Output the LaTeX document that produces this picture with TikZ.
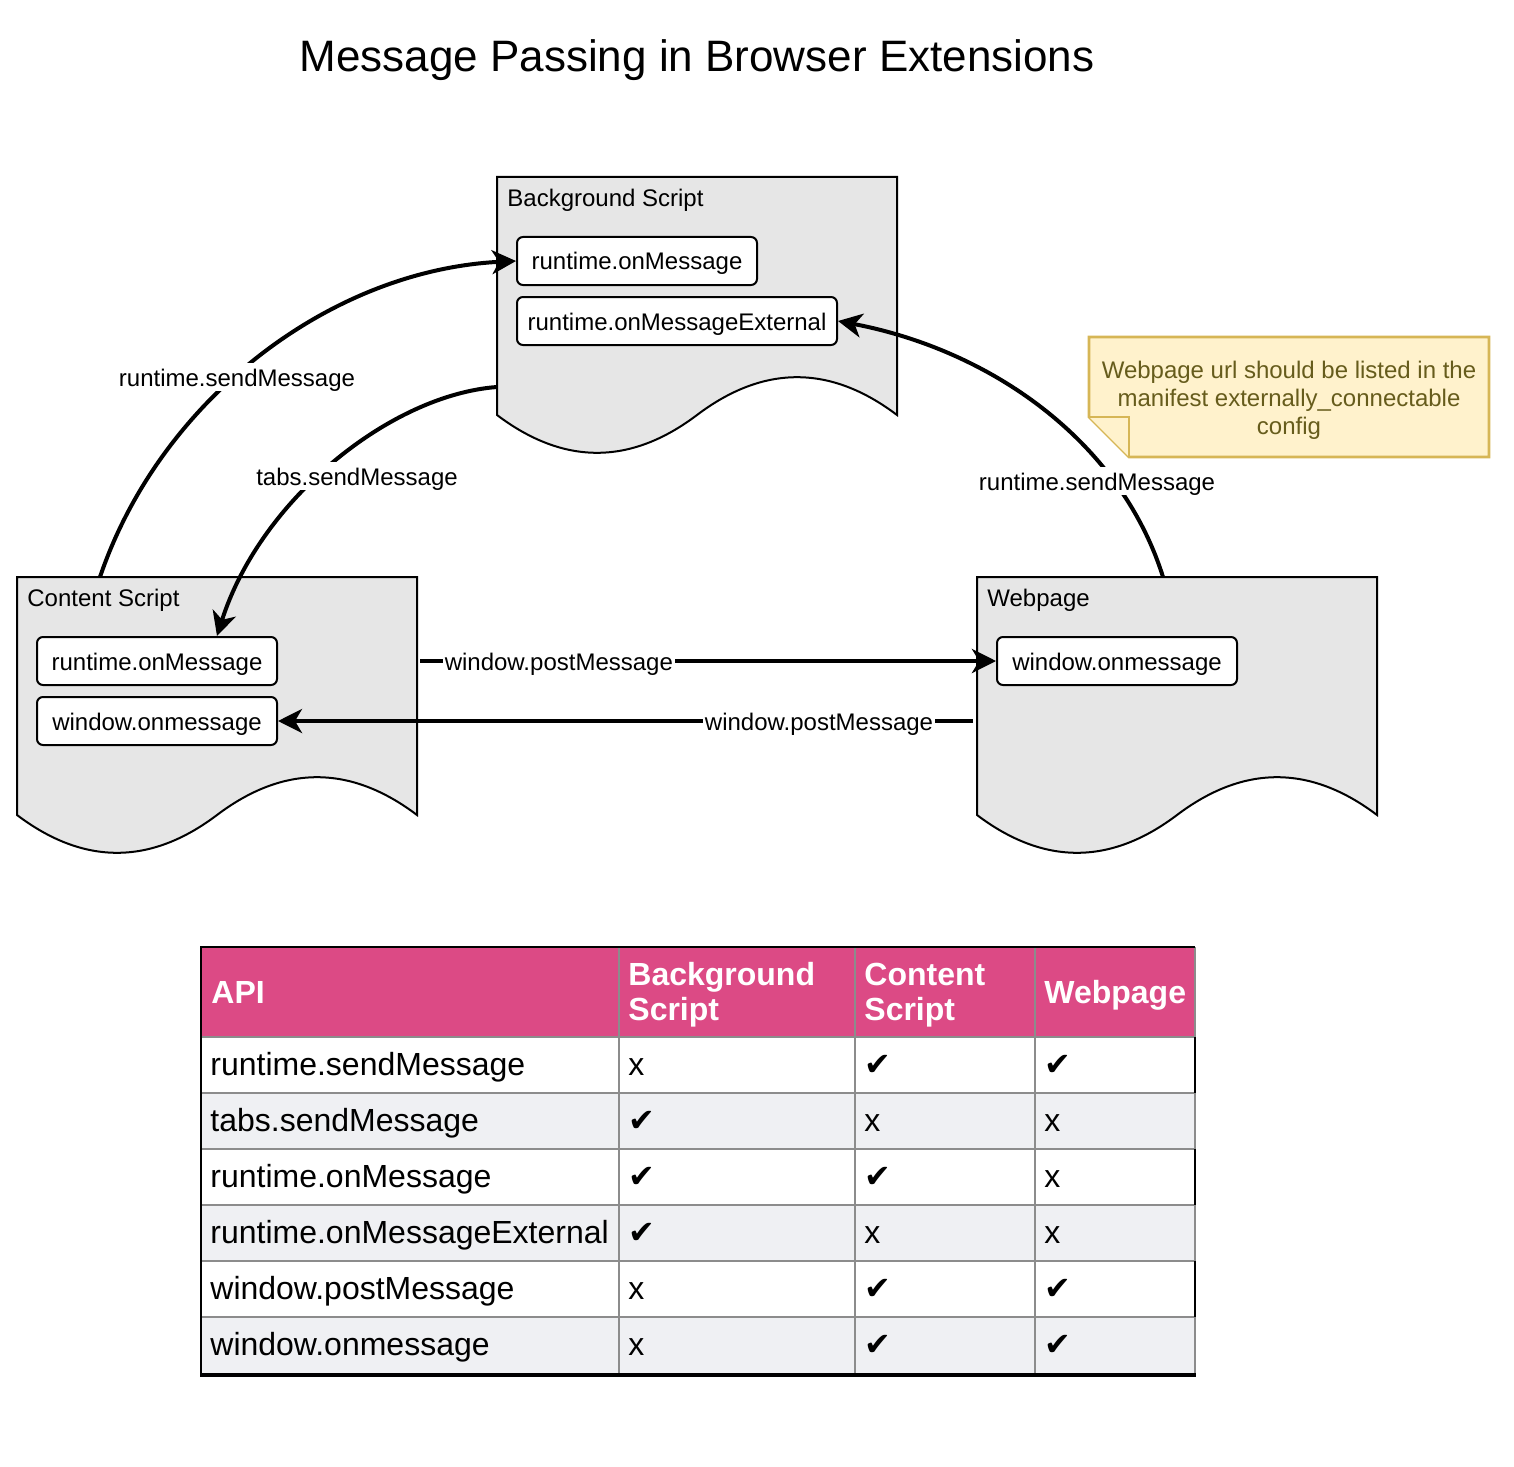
\documentclass[tikz,border=0pt]{standalone}
\usepackage{fontspec}
\setmainfont{Liberation Sans}
\newfontfamily\ckfont{DejaVu Sans}
\usetikzlibrary{arrows.meta}
\definecolor{docfill}{HTML}{E6E6E6}
\definecolor{notefill}{HTML}{FFF2CC}
\definecolor{notestroke}{HTML}{D6B656}
\definecolor{notetext}{HTML}{665C1C}
\definecolor{pinkhdr}{HTML}{DC4A85}
\definecolor{rowgray}{HTML}{EFF0F3}
\definecolor{gridgray}{HTML}{8C8C8C}
\newcommand\tabck{{\ckfont\fontsize{16}{18}\selectfont ✔}}
\newcommand\tabx{x}
\tikzset{
  doc/.style={minimum width=200pt, minimum height=140pt, inner sep=0pt, outer sep=0pt, anchor=north west},
  docline/.style={draw=black, fill=docfill, line width=1pt},
  doctitle/.style={anchor=base west, inner sep=0pt, font=\fontsize{12}{14}\selectfont},
  ibox/.style={draw=black, fill=white, line width=1pt, rounded corners=3pt, minimum height=24pt, inner sep=0pt, text height=9pt, text depth=0pt, font=\fontsize{12}{14}\selectfont},
  conn/.style={line width=2pt, -{Stealth[length=12pt,width=12pt,inset=3.5pt]}},
  lbl/.style={fill=white, inner xsep=1pt, inner ysep=2.5pt, text height=9pt, text depth=0pt, font=\fontsize{12}{14}\selectfont},
  ttl/.style={anchor=base, inner sep=0pt, font=\fontsize{22}{26}\selectfont},
  notebox/.style={draw=notestroke, fill=notefill, line width=1.3pt, line join=miter},
  notetxt/.style={align=center, text=notetext, inner sep=0pt, font=\fontsize{12}{14}\selectfont},
  gridline/.style={draw=gridgray, line width=1pt},
  hdr/.style={anchor=base west, inner sep=0pt, text=white, font=\bfseries\fontsize{16}{19}\selectfont},
  cell/.style={anchor=base west, inner sep=0pt, font=\fontsize{16}{19}\selectfont},
}
\begin{document}
\begin{tikzpicture}[x=0.5pt,y=-0.5pt]
\useasboundingbox (0,0) rectangle (1514,1466);

% title
\node[ttl] (title) at (697,72) {Message Passing in Browser Extensions};

% document shapes
\node[doc] (bg) at (497,177) {};
\node[doc] (cs) at (17,577) {};
\node[doc] (wp) at (977,577) {};
\foreach \n in {bg,cs,wp}{
  \draw[docline, shift={(\n.north west)}] (0,0) -- (400,0) -- (400,238)
    .. controls (333.3,187.6) and (266.7,187.6) .. (200,238)
    .. controls (133.3,288.4) and (66.7,288.4) .. (0,238) -- cycle;
}
\node[doctitle] (bgt) at (507,206) {Background Script};
\node[doctitle] (cst) at (27,606) {Content Script};
\node[doctitle] (wpt) at (987,606) {Webpage};

% inner boxes
\node[ibox, minimum width=120pt] (bgon) at (637,261) {runtime.onMessage};
\node[ibox, minimum width=160pt] (bgext) at (677,321) {runtime.onMessageExternal};
\node[ibox, minimum width=120pt] (cson) at (157,661) {runtime.onMessage};
\node[ibox, minimum width=120pt] (cswin) at (157,721) {window.onmessage};
\node[ibox, minimum width=120pt] (wpwin) at (1117,661) {window.onmessage};

% connectors
\draw[conn] ([xshift=41.5pt]cs.north west) .. controls (160,400) and (330,270) .. (bgon.west);
\draw[conn] ([yshift=-105pt]bg.north west) .. controls (390,395) and (260,500) .. ([xshift=30pt]cson.north);
\draw[conn] ([xshift=93pt]wp.north west) .. controls (1120,440) and (990,350) .. (bgext.east);
\draw[conn, shorten <=1.5pt] (cs.east |- cson.east) -- node[lbl, pos=0.245] (l4) {window.postMessage} (wpwin.west);
\draw[conn, shorten <=2pt] (wp.west |- cswin.east) -- node[lbl, pos=0.226] (l5) {window.postMessage} (cswin.east);
\node[lbl] (l1) at (237,377) {runtime.sendMessage};
\node[lbl] (l2) at (357,476) {tabs.sendMessage};
\node[lbl] (l3) at (1097,481) {runtime.sendMessage};

% note
\draw[notebox] (1089,337) -- (1489,337) -- (1489,457) -- (1129,457) -- (1089,417) -- cycle;
\draw[notebox] (1089,417) -- (1129,417) -- (1129,457);
\node[notetxt] (note) at (1289,400) {Webpage url should be listed in the\\manifest externally\_connectable\\config};

% table
\fill[pinkhdr] (201,947) rectangle (1195,1037);
\fill[rowgray] (201,1093) rectangle (1195,1149);
\fill[rowgray] (201,1205) rectangle (1195,1261);
\fill[rowgray] (201,1317) rectangle (1195,1375);
\foreach \x in {619,855,1035,1195} \draw[gridline] (\x,947) -- (\x,1375);
\foreach \y in {1037,1093,1149,1205,1261,1317} \draw[gridline] (201,\y) -- (1195,\y);
\draw[line width=1pt] (201,1375) -- (201,947) -- (1195,947);
\foreach \y in {1037,1149,1261} \draw[line width=1.2pt] (1195,\y) -- (1195,\y+56);
\draw[line width=2pt] (200,1375) -- (1196,1375);

\node[hdr] (h1) at (211,1003) {API};
\node[hdr] (h2a) at (628,985) {Background};
\node[hdr] (h2b) at (628,1020) {Script};
\node[hdr] (h3a) at (864,985) {Content};
\node[hdr] (h3b) at (864,1020) {Script};
\node[hdr] (h4) at (1044,1003) {Webpage};

\foreach \i/\api/\a/\b/\c in {1/runtime.sendMessage/\tabx/\tabck/\tabck,
  2/tabs.sendMessage/\tabck/\tabx/\tabx,
  3/runtime.onMessage/\tabck/\tabck/\tabx,
  4/runtime.onMessageExternal/\tabck/\tabx/\tabx,
  5/window.postMessage/\tabx/\tabck/\tabck,
  6/window.onmessage/\tabx/\tabck/\tabck}{
  \pgfmathsetmacro\yb{1037+(\i-1)*56+38}
  \node[cell] (row\i-api) at (210,\yb) {\api};
  \node[cell] (row\i-bg) at (628,\yb) {\a};
  \node[cell] (row\i-cs) at (864,\yb) {\b};
  \node[cell] (row\i-wp) at (1044,\yb) {\c};
}
\end{tikzpicture}
\end{document}
